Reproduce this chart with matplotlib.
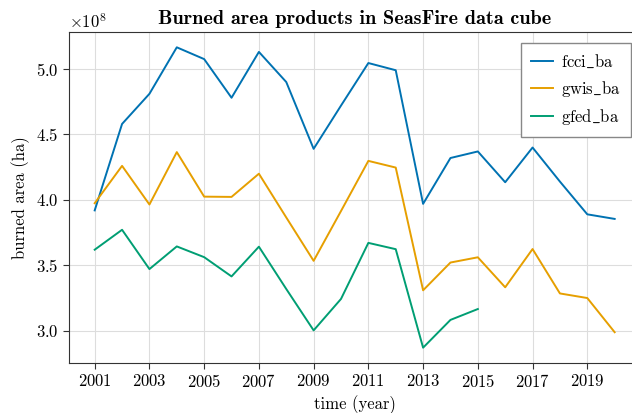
import numpy as np
import matplotlib
matplotlib.use("Agg")
import matplotlib.pyplot as plt

# burned area per year (units of 1e8 ha)
years = list(range(2001, 2021))
fcci_ba = [3.92, 4.58, 4.81, 5.165, 5.075, 4.78, 5.13, 4.90, 4.39, 4.72,
           5.045, 4.99, 3.97, 4.32, 4.37, 4.135, 4.40, 4.14, 3.89, 3.855]
gwis_ba = [3.975, 4.26, 3.965, 4.365, 4.025, 4.023, 4.20, 3.866, 3.535, 3.915,
           4.298, 4.247, 3.31, 3.522, 3.562, 3.333, 3.625, 3.286, 3.251, 2.99]
gfed_ba = [3.62, 3.772, 3.472, 3.645, 3.563, 3.416, 3.643, 3.32, 3.004, 3.244,
           3.672, 3.624, 2.872, 3.084, 3.167, np.nan, np.nan, np.nan, np.nan, np.nan]

series = {"fcci_ba": fcci_ba, "gwis_ba": gwis_ba, "gfed_ba": gfed_ba}
colors = ["#0072b2", "#e69f00", "#009e73"]

plt.rcParams["font.family"] = ["cmr10", "DejaVu Serif"]
plt.rcParams["mathtext.fontset"] = "cm"
plt.rcParams["axes.formatter.use_mathtext"] = True
plt.rcParams["font.size"] = 12

fig = plt.figure(figsize=(6.32, 4.13), dpi=100)
ax = fig.add_axes([0.1087, 0.1218, 0.905, 0.80])

for (name, vals), c in zip(series.items(), colors):
    # cmr10 has no underscore glyph, so render label via mathtext
    lab = r"$\mathrm{" + name.replace("_", r"\_") + "}$"
    ax.plot(years, np.array(vals) * 1e8, color=c, lw=1.4, label=lab)

ax.set_xticks(range(2001, 2021, 2))
ax.grid(True, color="#dddddd", lw=0.8)
ax.set_axisbelow(True)
for s in ax.spines.values():
    s.set_color("#333333")
ax.spines["right"].set_visible(False)  # cut off at the figure edge in the original
ax.tick_params(colors="#333333", labelcolor="black", length=4)

ax.set_xlabel("time (year)")
ax.set_ylabel("burned area (ha)")
ax.set_title("Burned area products in SeasFire data cube", fontfamily="cmb10", fontsize=14.6)

leg = ax.legend(loc="upper right", bbox_to_anchor=(631 / 632, 1 - 43 / 413),
                bbox_transform=fig.transFigure, fancybox=False, framealpha=1,
                edgecolor="#888888", handlelength=1.3, handletextpad=0.5,
                labelspacing=0.5, borderpad=0.6, borderaxespad=0)
leg.get_frame().set_linewidth(1.0)

fig.savefig("out.png", dpi=100)
